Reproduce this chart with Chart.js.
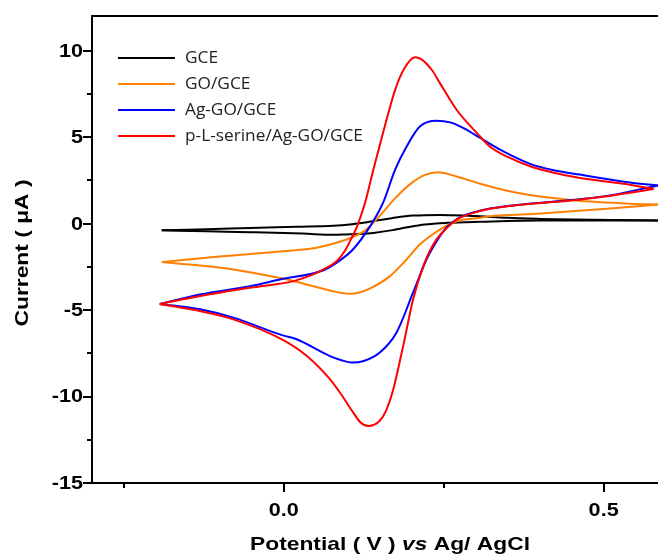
<!DOCTYPE html>
<html>
<head>
<meta charset="utf-8">
<script src="https://cdn.jsdelivr.net/npm/chart.js@4.4.1/dist/chart.umd.min.js"></script>
<style>
  html, body { margin: 0; padding: 0; background: #fff; }
  #wrap { width: 658px; height: 555px; }
</style>
</head>
<body>
<div id="wrap"><canvas id="cv"></canvas></div>
<script>
// legend order
const seriesLabels = ['GCE', 'GO/GCE', 'Ag-GO/GCE', 'p-L-serine/Ag-GO/GCE'];
const seriesColors = ['#000000', '#FF8000', '#0000FF', '#FF0000'];

// CV loops, [E (V), I (uA)] : forward sweep then reverse sweep
const gceFwd = [[-0.191,-0.39],[-0.12,-0.33],[-0.053,-0.25],[0.02,-0.18],[0.077,-0.12],[0.103,-0.05],
  [0.13,0.08],[0.15,0.2],[0.175,0.35],[0.202,0.46],[0.244,0.5],[0.28,0.47],[0.307,0.42],[0.349,0.33],
  [0.40,0.27],[0.453,0.23],[0.52,0.2],[0.585,0.18]];
const gceRev = [[0.585,0.17],[0.50,0.17],[0.401,0.17],[0.307,0.1],[0.255,0.04],[0.22,-0.05],[0.202,-0.15],
  [0.17,-0.38],[0.14,-0.54],[0.12,-0.6],[0.098,-0.63],[0.077,-0.65],[0.03,-0.58],[-0.053,-0.5],
  [-0.12,-0.45],[-0.191,-0.39]];

const goFwd = [[-0.191,-2.23],[-0.105,-1.92],[-0.001,-1.6],[0.051,-1.4],[0.082,-1.11],[0.098,-0.92],
  [0.115,-0.65],[0.129,-0.35],[0.15,0.45],[0.175,1.5],[0.2,2.35],[0.22,2.8],[0.241,2.96],[0.27,2.72],
  [0.307,2.3],[0.349,1.9],[0.385,1.65],[0.453,1.35],[0.541,1.15],[0.585,1.1]];
const goRev = [[0.585,1.1],[0.505,0.85],[0.401,0.58],[0.322,0.42],[0.307,0.33],[0.27,0.13],[0.244,-0.35],
  [0.213,-1.2],[0.19,-2.15],[0.166,-3.04],[0.135,-3.75],[0.115,-4.02],[0.103,-4.06],[0.075,-3.9],
  [0.046,-3.62],[-0.006,-3.15],[-0.079,-2.65],[-0.131,-2.42],[-0.191,-2.23]];

const agFwd = [[-0.194,-4.65],[-0.131,-4.1],[-0.053,-3.62],[-0.006,-3.23],[0.062,-2.7],[0.085,-2.2],
  [0.108,-1.5],[0.135,-0.15],[0.155,1.19],[0.174,3.12],[0.192,4.46],[0.213,5.62],[0.239,5.94],
  [0.26,5.85],[0.281,5.52],[0.307,4.95],[0.338,4.27],[0.385,3.45],[0.42,3.1],[0.463,2.83],[0.541,2.38],
  [0.585,2.2]];
const agRev = [[0.585,2.2],[0.505,1.6],[0.453,1.37],[0.375,1.12],[0.322,0.87],[0.296,0.64],[0.27,0.25],
  [0.255,-0.2],[0.244,-0.73],[0.223,-2.08],[0.202,-4.0],[0.176,-6.31],[0.15,-7.46],[0.125,-7.95],
  [0.106,-8.04],[0.09,-7.9],[0.072,-7.66],[0.02,-6.69],[-0.003,-6.45],[-0.079,-5.44],[-0.131,-4.96],
  [-0.194,-4.65]];

const serFwd = [[-0.194,-4.65],[-0.131,-4.19],[-0.053,-3.71],[0.015,-3.33],[0.046,-2.94],[0.062,-2.65],
  [0.082,-2.2],[0.095,-1.6],[0.105,-0.9],[0.114,-0.2],[0.127,1.2],[0.14,3.12],[0.155,5.23],[0.174,7.73],
  [0.188,8.95],[0.205,9.62],[0.214,9.52],[0.232,8.85],[0.244,8.12],[0.27,6.58],[0.302,5.23],[0.322,4.46],
  [0.35,3.85],[0.385,3.31],[0.42,2.95],[0.463,2.64],[0.541,2.25],[0.578,2.0]];
const serRev = [[0.578,2.0],[0.505,1.58],[0.453,1.35],[0.375,1.1],[0.322,0.85],[0.296,0.62],[0.27,0.23],
  [0.255,-0.25],[0.239,-0.9],[0.228,-1.6],[0.218,-2.46],[0.202,-4.39],[0.187,-7.0],[0.171,-9.6],[0.16,-10.8],
  [0.15,-11.4],[0.132,-11.7],[0.12,-11.5],[0.108,-10.9],[0.09,-9.9],[0.072,-9.0],[0.036,-7.66],
  [-0.003,-6.7],[-0.079,-5.54],[-0.131,-5.06],[-0.194,-4.65]];

const loops = [[gceFwd, gceRev], [goFwd, goRev], [agFwd, agRev], [serFwd, serRev]];

// axis ticks
const xMajor = [0, 0.5];
const xMinor = [-0.25, 0.25];
const yMajor = [-15, -10, -5, 0, 5, 10];
const yMinor = [-12.5, -7.5, -2.5, 2.5, 7.5];

const datasets = [];
loops.forEach((lp, i) => {
  lp.forEach(branch => {
    datasets.push({
      label: seriesLabels[i],
      data: branch.map(p => ({ x: p[0], y: p[1] })),
      borderColor: seriesColors[i],
      borderWidth: 2,
      pointRadius: 0,
      showLine: true,
      cubicInterpolationMode: 'monotone',
      order: 4 - i
    });
  });
});

const FAM = '"Liberation Sans", Arial, sans-serif';
const STRETCH = 1.2;   // the original text is drawn wide

// text drawn wider than the font, like the source figure
function wideText(ctx, txt, x, y, align) {
  ctx.save();
  ctx.translate(x, y);
  ctx.scale(STRETCH, 1);
  ctx.textAlign = align;
  ctx.fillText(txt, 0, 0);
  ctx.restore();
}

const decor = {
  id: 'decor',
  afterDraw(chart) {
    const ctx = chart.ctx;
    const a = chart.chartArea;
    const sx = chart.scales.x, sy = chart.scales.y;
    ctx.save();
    ctx.strokeStyle = '#000';
    ctx.lineWidth = 2;
    // top frame line
    ctx.beginPath();
    ctx.moveTo(a.left - 1, a.top);
    ctx.lineTo(a.right, a.top);
    ctx.stroke();
    // outward ticks
    ctx.beginPath();
    xMajor.forEach(v => { const px = Math.round(sx.getPixelForValue(v)); ctx.moveTo(px, a.bottom); ctx.lineTo(px, a.bottom + 9); });
    xMinor.forEach(v => { const px = Math.round(sx.getPixelForValue(v)); ctx.moveTo(px, a.bottom); ctx.lineTo(px, a.bottom + 5); });
    yMajor.forEach(v => { const py = Math.round(sy.getPixelForValue(v)); ctx.moveTo(a.left, py); ctx.lineTo(a.left - 9, py); });
    yMinor.forEach(v => { const py = Math.round(sy.getPixelForValue(v)); ctx.moveTo(a.left, py); ctx.lineTo(a.left - 5, py); });
    ctx.stroke();

    // tick labels
    ctx.fillStyle = '#000';
    ctx.font = 'bold 18px ' + FAM;
    ctx.textBaseline = 'middle';
    xMajor.forEach(v => wideText(ctx, v.toFixed(1), sx.getPixelForValue(v), 511, 'center'));
    yMajor.forEach(v => wideText(ctx, String(v), a.left - 9, sy.getPixelForValue(v) + 1, 'right'));

    // y title
    ctx.font = 'bold 19px ' + FAM;
    ctx.save();
    ctx.translate(23, 253);
    ctx.rotate(-Math.PI / 2);
    wideText(ctx, 'Current ( \u03BCA )', 0, 0, 'center');
    ctx.restore();

    // x title with italic "vs"
    const parts = [['Potential ( V ) ', 'bold 19px ' + FAM], ['vs', 'italic bold 19px ' + FAM], [' Ag/ AgCl', 'bold 19px ' + FAM]];
    let total = 0;
    parts.forEach(p => { ctx.font = p[1]; total += ctx.measureText(p[0]).width * STRETCH; });
    let x = 390 - total / 2;
    parts.forEach(p => {
      ctx.font = p[1];
      wideText(ctx, p[0], x, 545, 'left');
      x += ctx.measureText(p[0]).width * STRETCH;
    });

    // legend inside the plot
    ctx.font = '16px "Open Sans", sans-serif';
    ctx.textAlign = 'left';
    seriesLabels.forEach((lab, i) => {
      const y = 58 + i * 26;
      ctx.strokeStyle = seriesColors[i];
      ctx.beginPath();
      ctx.moveTo(118, y);
      ctx.lineTo(175, y);
      ctx.stroke();
      ctx.fillStyle = '#222';
      ctx.save();
      ctx.translate(185, y);
      ctx.scale(1.08, 1);
      ctx.fillText(lab, 0, 0);
      ctx.restore();
    });
    ctx.restore();
  }
};

new Chart(document.getElementById('cv'), {
  type: 'scatter',
  data: { datasets: datasets },
  options: {
    responsive: true,
    maintainAspectRatio: false,
    animation: false,
    layout: { padding: { top: 16, right: 0, left: 0, bottom: 0 } },
    plugins: { legend: { display: false }, tooltip: { enabled: false } },
    scales: {
      x: {
        type: 'linear',
        min: -0.3,
        max: 0.585,
        grid: { display: false, drawTicks: false },
        border: { display: true, color: '#000', width: 2 },
        afterBuildTicks: s => { s.ticks = xMajor.map(v => ({ value: v })); },
        afterFit: s => { s.height = 72; },
        ticks: { display: false }
      },
      y: {
        type: 'linear',
        min: -15,
        max: 12,
        grid: { display: false, drawTicks: false },
        border: { display: true, color: '#000', width: 2 },
        afterBuildTicks: s => { s.ticks = yMajor.map(v => ({ value: v })); },
        afterFit: s => { s.width = 92; },
        ticks: { display: false }
      }
    }
  },
  plugins: [decor]
});
</script>
</body>
</html>
